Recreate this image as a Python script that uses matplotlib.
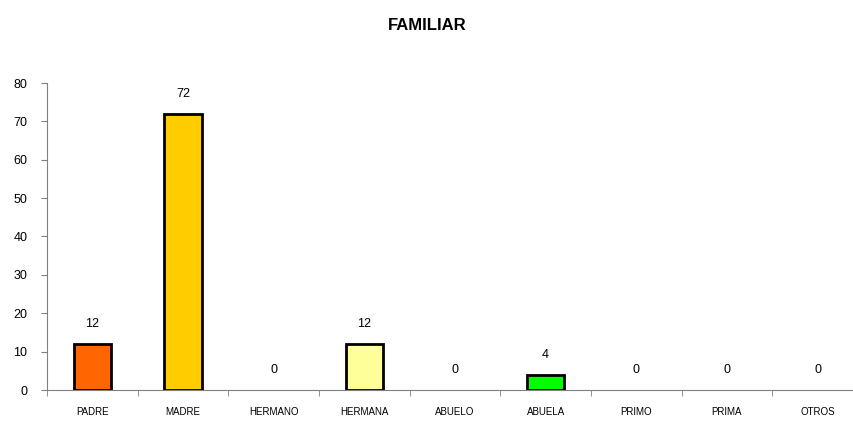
import matplotlib.pyplot as plt
import numpy as np

# data
categorias = ['PADRE', 'MADRE', 'HERMANO', 'HERMANA', 'ABUELO', 'ABUELA', 'PRIMO', 'PRIMA', 'OTROS']
valores = [12, 72, 0, 12, 0, 4, 0, 0, 0]
colores = ['#FF6600', '#FFCC00', '#FFFFFF', '#FFFF99', '#FFFFFF', '#00FF00', '#FFFFFF', '#FFFFFF', '#FFFFFF']

plt.rcParams['font.family'] = ['Liberation Sans', 'DejaVu Sans']

fig = plt.figure(figsize=(8.54, 4.23), dpi=100)
ax = fig.add_axes([47/854, 33/423, 816/854, 307/423])

x = np.arange(len(categorias))
for xi, v, c in zip(x, valores, colores):
    if v > 0:
        ax.bar(xi, v, width=0.41, color=c, edgecolor='black', linewidth=2, zorder=3)
    ax.annotate(str(v), (xi, v), xytext=(0, 14.5), textcoords='offset points',
                ha='center', va='center', fontsize=9)

ax.set_xlim(-0.5, len(categorias) - 0.5)
ax.set_ylim(0, 80)
ax.set_yticks(range(0, 81, 10))
ax.tick_params(axis='y', labelsize=9, length=4, pad=10, color='#808080')
ax.set_xticks(x)
ax.set_xticklabels(categorias, fontsize=7)
ax.set_xticks(np.arange(-0.5, len(categorias), 1), minor=True)
ax.tick_params(axis='x', which='major', length=0, pad=12)
ax.tick_params(axis='x', which='minor', length=4, color='#808080')

for s in ['top', 'right']:
    ax.spines[s].set_visible(False)
for s in ['left', 'bottom']:
    ax.spines[s].set_color('#808080')

fig.text(0.5, 1 - 25/423, 'FAMILIAR', ha='center', va='center', fontsize=12, fontweight='bold')

fig.savefig('out.png', dpi=100)
